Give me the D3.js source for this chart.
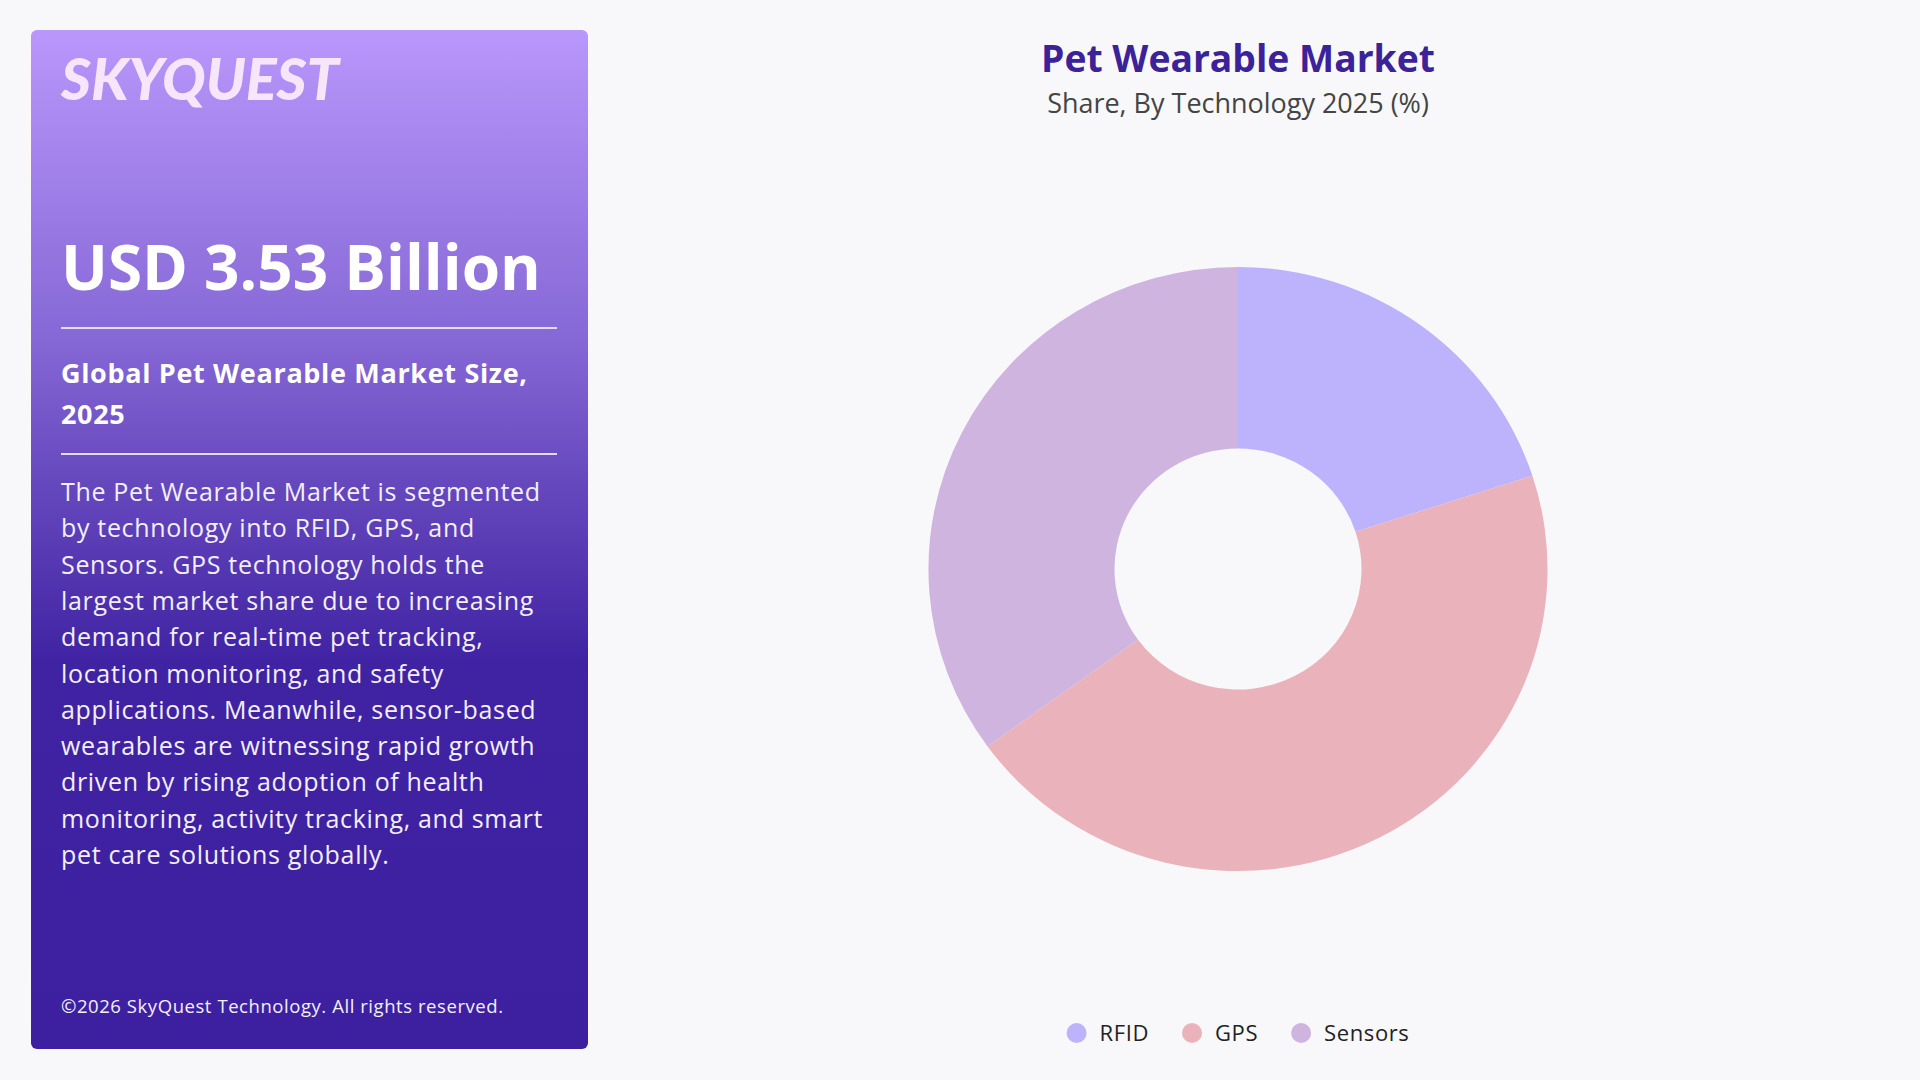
<!DOCTYPE html>
<html>
<head>
<meta charset="utf-8">
<script src="https://cdn.jsdelivr.net/npm/d3@7"></script>
<style>
  html, body { margin: 0; padding: 0; background: #f8f8fa; }
  svg { display: block; font-family: "Open Sans", "Noto Sans", sans-serif; }
</style>
</head>
<body>
<div id="chart"></div>
<script>
// chart data
var categories = ["RFID", "GPS", "Sensors"]
var shares = [20, 45, 35]
var colors = ["#bdb3fd", "#eab3bb", "#ceb4de"]

// left panel texts
var headline = "USD 3.53 Billion"
var sizeLabel = ["Global Pet Wearable Market Size,", "2025"]
var paragraph = [
  "The Pet Wearable Market is segmented",
  "by technology into RFID, GPS, and",
  "Sensors. GPS technology holds the",
  "largest market share due to increasing",
  "demand for real-time pet tracking,",
  "location monitoring, and safety",
  "applications. Meanwhile, sensor-based",
  "wearables are witnessing rapid growth",
  "driven by rising adoption of health",
  "monitoring, activity tracking, and smart",
  "pet care solutions globally."
]

var width = 1920,
    height = 1080

var svg = d3.select("#chart")
            .append("svg")
            .attr("width", width)
            .attr("height", height)

svg.append("rect")
   .attr("width", width)
   .attr("height", height)
   .attr("fill", "#f8f8fa")

// shrink or grow a text until it is as wide as the reference
function fitWidth(sel, target) {
  var size = parseFloat(sel.attr("font-size"))
  var w = sel.node().getComputedTextLength()
  sel.attr("font-size", size * target / w)
}

// spread the letters of a text until it is as wide as the reference
function spacingFor(sel, target) {
  var txt = sel.text()
  var w = sel.node().getComputedTextLength()
  return (target - w) / (txt.length - 1)
}

// ---- left panel ----
var defs = svg.append("defs")
var grad = defs.append("linearGradient")
               .attr("id", "panelGrad")
               .attr("x1", 0).attr("y1", 0)
               .attr("x2", 0).attr("y2", 1)
grad.append("stop").attr("offset", "0%").attr("stop-color", "#b997fb")
grad.append("stop").attr("offset", "30%").attr("stop-color", "#8668d6")
grad.append("stop").attr("offset", "45%").attr("stop-color", "#6547bd")
grad.append("stop").attr("offset", "62%").attr("stop-color", "#4023a2")
grad.append("stop").attr("offset", "100%").attr("stop-color", "#3d20a0")

var panel = svg.append("g")

panel.append("rect")
     .attr("x", 31)
     .attr("y", 30)
     .attr("width", 557)
     .attr("height", 1019)
     .attr("rx", 6)
     .attr("fill", "url(#panelGrad)")

var logo = panel.append("text")
     .attr("x", 61)
     .attr("y", 100)
     .attr("font-family", "Lato, 'Open Sans', sans-serif")
     .attr("font-size", 54)
     .attr("font-weight", 900)
     .attr("font-style", "italic")
     .attr("fill", "#f7e6fb")
     .text("SKYQUEST")
fitWidth(logo, 278)

var usd = panel.append("text")
     .attr("x", 61)
     .attr("y", 290)
     .attr("font-size", 66)
     .attr("font-weight", 700)
     .attr("fill", "#ffffff")
     .text(headline)
fitWidth(usd, 480)

panel.selectAll("line.divider")
     .data([328, 454])
     .enter()
     .append("line")
     .attr("class", "divider")
     .attr("x1", 61)
     .attr("x2", 557)
     .attr("y1", function(d) { return d })
     .attr("y2", function(d) { return d })
     .attr("stroke", "#e4dcfb")
     .attr("stroke-width", 2)

var labels = panel.selectAll("text.sizeLabel")
     .data(sizeLabel)
     .enter()
     .append("text")
     .attr("class", "sizeLabel")
     .attr("x", 61)
     .attr("y", function(d, i) { return 383 + i * 41 })
     .attr("font-size", 27)
     .attr("font-weight", 700)
     .attr("fill", "#ffffff")
     .text(function(d) { return d })
var labelSpacing = spacingFor(d3.select(labels.nodes()[0]), 466)
labels.attr("letter-spacing", labelSpacing)

var para = panel.selectAll("text.para")
     .data(paragraph)
     .enter()
     .append("text")
     .attr("class", "para")
     .attr("x", 61)
     .attr("y", function(d, i) { return 501 + i * 36.3 })
     .attr("font-size", 25)
     .attr("fill", "#f3efff")
     .text(function(d) { return d })
var paraSpacing = spacingFor(d3.select(para.nodes()[0]), 479)
para.attr("letter-spacing", paraSpacing)

var copy = panel.append("text")
     .attr("x", 61)
     .attr("y", 1013)
     .attr("font-size", 18.5)
     .attr("fill", "#f3efff")
     .text("\u00a92026 SkyQuest Technology. All rights reserved.")
copy.attr("letter-spacing", spacingFor(copy, 442))

// ---- title ----
var cx = 1238, cy = 569

var title = svg.append("text")
     .attr("x", cx)
     .attr("y", 72)
     .attr("text-anchor", "middle")
     .attr("font-size", 36)
     .attr("font-weight", 700)
     .attr("fill", "#3b2299")
     .text("Pet Wearable Market")
fitWidth(title, 394)

var subtitle = svg.append("text")
     .attr("x", cx)
     .attr("y", 113)
     .attr("text-anchor", "middle")
     .attr("font-size", 24)
     .attr("fill", "#444444")
     .text("Share, By Technology 2025 (%)")
fitWidth(subtitle, 382)

// ---- donut ----
var slices = categories.map(function(c, i) {
  return { name: c, value: shares[i], color: colors[i] }
})

var pie = d3.pie()
            .sort(null)
            .value(function(d) { return d.value })

var arc = d3.arc()
            .innerRadius(120.5)
            .outerRadius(302)

var g = svg.append("g")
           .attr("transform", "translate(" + cx + "," + cy + ") scale(1.025,1)")

g.selectAll("path.slice")
 .data(pie(slices))
 .enter()
 .append("path")
 .attr("class", "slice")
 .attr("d", arc)
 .attr("fill", function(d) { return d.data.color })

// ---- legend ----
var legend = svg.append("g")
var xPos = 0
slices.forEach(function(d) {
  var item = legend.append("g").attr("transform", "translate(" + xPos + ",0)")
  item.append("circle")
      .attr("cx", 10)
      .attr("cy", 0)
      .attr("r", 10)
      .attr("fill", d.color)
  var t = item.append("text")
      .attr("x", 33)
      .attr("y", 8)
      .attr("font-size", 22)
      .attr("letter-spacing", 0.6)
      .attr("fill", "#222222")
      .text(d.name)
  xPos += 33 + t.node().getComputedTextLength() + 33
})
var legendWidth = xPos - 33
legend.attr("transform", "translate(" + (cx - legendWidth / 2) + ",1033)")
</script>
</body>
</html>
